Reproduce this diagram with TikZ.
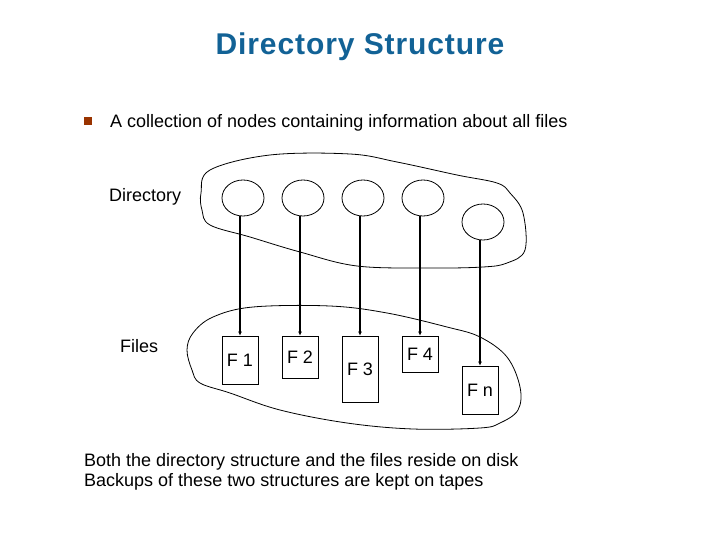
\documentclass[tikz,border=0pt]{standalone}
\usepackage{fontspec}
\setmainfont{Liberation Sans}
\usetikzlibrary{arrows.meta,shapes.geometric}
\definecolor{titleblue}{RGB}{18,98,150}
\definecolor{bulletbrown}{RGB}{153,51,0}

\begin{document}
\begin{tikzpicture}[x=1pt, y=-1pt,
    font=\fontsize{18}{20}\selectfont,
    txt/.style={anchor=base west, inner sep=0},
    dirnode/.style={draw, ellipse, minimum width=42pt, minimum height=36pt, inner sep=0, line width=0.8pt},
    filebox/.style={draw, minimum width=36pt, inner sep=0, line width=0.8pt},
    link/.style={-{Latex[length=4pt,width=4pt]}, line width=2.3pt},
    blob/.style={line width=0.8pt}
  ]
  \useasboundingbox (0,0) rectangle (720,540);

  % heading and bullet
  \node[anchor=base, inner sep=0, text=titleblue,
    font=\fontsize{30}{32}\selectfont\bfseries\addfontfeature{LetterSpace=3}] (title) at (360,55) {Directory Structure};
  \node[fill=bulletbrown, minimum size=8pt, inner sep=0] (bullet) at (88,121) {};
  \node[txt] (intro) at (110,128) {A collection of nodes containing information about all files};

  % the two regions
  \draw[blob] plot[smooth cycle, tension=0.6] coordinates {(201,193) (210,170) (270,155) (350,154) (397,162) (457,175) (497,183) (510,193) (523,213) (525,250) (507,263) (483,267) (430,268) (357,266) (300,252) (250,237) (210,225) (202,210)};
  \draw[blob] plot[smooth cycle, tension=0.6] coordinates {(187,350) (193,333) (213,317) (253,307) (330,306) (387,313) (447,327) (480,337) (507,357) (520,387) (518,410) (500,423) (480,428) (413,429) (347,423) (280,410) (230,393) (200,383) (192,370)};
  \node[txt] (dirlabel) at (109,202) {Directory};
  \node[txt] (fileslabel) at (120,352) {Files};

  % directory entries
  \node[dirnode] (d1) at (243,198) {};
  \node[dirnode] (d2) at (303,198) {};
  \node[dirnode] (d3) at (363,198) {};
  \node[dirnode] (d4) at (423,198) {};
  \node[dirnode] (d5) at (483,222) {};

  % files
  \node[filebox, minimum height=48pt] (f1) at (240,360) {F 1};
  \node[filebox, minimum height=42pt] (f2) at (300,357) {F 2};
  \node[filebox, minimum height=66pt] (f3) at (360,369) {F 3};
  \node[filebox, minimum height=36pt] (f4) at (420,354) {F 4};
  \node[filebox, minimum height=48pt] (fn) at (480,390) {F n};

  \foreach \d/\f in {d1/f1, d2/f2, d3/f3, d4/f4, d5/fn}
    \draw[link] (\d.south -| \f.north) -- (\f.north);

  \node[txt] (note1) at (84,466) {Both the directory structure and the files reside on disk};
  \node[txt] (note2) at (84,486) {Backups of these two structures are kept on tapes};
\end{tikzpicture}
\end{document}
